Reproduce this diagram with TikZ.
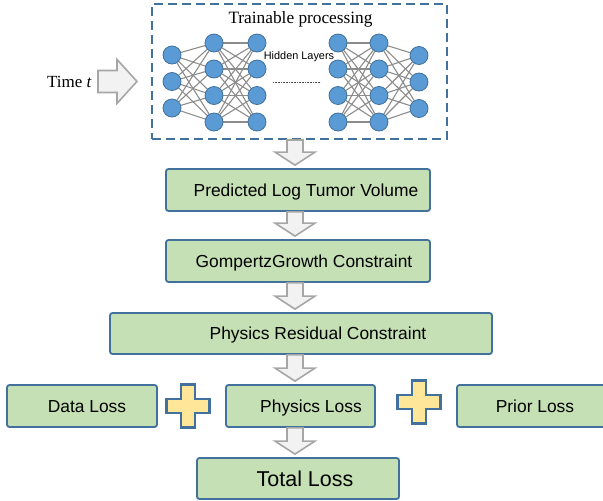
\documentclass[tikz,border=0pt]{standalone}
\usepackage{fontspec}
\setmainfont{Liberation Serif}
\newfontfamily\arialfont{Liberation Sans}
\usetikzlibrary{calc}
\pgfdeclarelayer{background}
\pgfsetlayers{background,main}
\definecolor{boxfill}{HTML}{C5E0B4}
\definecolor{boxline}{HTML}{41719C}
\definecolor{neuronfill}{HTML}{5B9BD5}
\definecolor{edgegray}{HTML}{8C8C8C}
\definecolor{arrowfill}{HTML}{F2F2F2}
\definecolor{arrowline}{HTML}{A6A6A6}
\definecolor{plusfill}{HTML}{FFE699}

\tikzset{
  stagebox/.style={draw=boxline, line width=1.8pt, fill=boxfill, rounded corners=2.5pt, inner sep=0pt},
  stagetext/.style={font=\arialfont\fontsize{17.4}{20}\selectfont, inner sep=0pt, anchor=base},
  bigtext/.style={font=\arialfont\fontsize{21.5}{24}\selectfont, inner sep=0pt, anchor=base},
  netbox/.style={draw=boxline, line width=2pt, dash pattern=on 9pt off 5pt, inner sep=0pt},
  neuron/.style={circle, minimum size=18pt, inner sep=0pt, fill=neuronfill, draw=boxline, line width=0.8pt},
  nnedge/.style={draw=edgegray, line width=1.1pt},
  blockarrow/.style={draw=arrowline, fill=arrowfill, line width=1.6pt, line join=miter},
  plusstyle/.style={draw=boxline, fill=plusfill, line width=2.6pt, line join=miter},
  plussign/.pic={
    \draw[plusstyle] (-7,-21.5) -- ++(14,0) -- ++(0,14.5) -- ++(14.5,0) -- ++(0,14)
      -- ++(-14.5,0) -- ++(0,14.5) -- ++(-14,0) -- ++(0,-14.5) -- ++(-14.5,0)
      -- ++(0,-14) -- ++(14.5,0) -- cycle;
  }
}

% downward block arrow from the bottom of #1 to just above #2
\newcommand{\blockdown}[2]{%
  \draw[blockarrow] let \p1=(ax |- #1.south), \p2=(ax |- #2.north) in
    (\x1-8pt,\y1) -- (\x1+8pt,\y1) -- (\x1+8pt,\y2+16pt) -- (\x1+20pt,\y2+16pt)
    -- (\x1,\y2+3pt) -- (\x1-20pt,\y2+16pt) -- (\x1-8pt,\y2+16pt) -- cycle;
}

\begin{document}
\begin{tikzpicture}[x=1pt,y=-1pt]
\useasboundingbox (0,0) rectangle (603,501);
\clip (0,0) rectangle (603,501);

% network block
\node[netbox, minimum width=295pt, minimum height=135pt] (net) at (299.5,71.5) {};
\node[font=\fontsize{17.3}{20}\selectfont, inner sep=0pt, anchor=base] (title) at (300.5,23) {Trainable processing};

% input label and arrow
\node[font=\fontsize{17}{20}\selectfont, inner sep=0pt, anchor=base] (timelbl) at (69.5,87) {Time \textit{t}};
\draw[blockarrow] let \p1=($(timelbl.east)+(6pt,0)$), \p2=($(net.west |- timelbl.east)+(-14pt,0)$) in
  (\x1,\y1+11pt) -- (\x2-20pt,\y1+11pt) -- (\x2-20pt,\y1+22pt) -- (\x2,\y1)
  -- (\x2-20pt,\y1-22pt) -- (\x2-20pt,\y1-11pt) -- (\x1,\y1-11pt) -- cycle;

% neurons
\foreach \j/\y in {1/55,2/81.5,3/108} {
  \node[neuron] (a\j) at (172,\y) {};
  \node[neuron] (f\j) at (419,\y+0.5) {};
}
\foreach \j/\y in {1/43,2/69,3/95.5,4/122} {
  \node[neuron] (b\j) at (214,\y) {};
  \node[neuron] (c\j) at (257,\y) {};
  \node[neuron] (d\j) at (338,\y) {};
  \node[neuron] (e\j) at (379,\y) {};
}
\begin{pgfonlayer}{background}
  \foreach \i in {1,...,3} \foreach \j in {1,...,4} {
    \draw[nnedge] (a\i) -- (b\j);
    \draw[nnedge] (e\j) -- (f\i);
  }
  \foreach \i in {1,...,4} \foreach \j in {1,...,4} {
    \draw[nnedge] (b\i) -- (c\j);
    \draw[nnedge] (d\i) -- (e\j);
  }
\end{pgfonlayer}
\node[font=\arialfont\fontsize{10.9}{12}\selectfont, inner sep=0pt, anchor=base] (hidden) at (299,59) {Hidden Layers};
\draw[draw=black!70, line width=1pt, dash pattern=on 0.8pt off 0.8pt] (273,82) -- (321,82);

% pipeline boxes
\node[stagebox, minimum width=264pt, minimum height=42pt] (b1box) at (298,190) {};
\node[stagetext] at ($(b1box.center)+(8,6.2)$) {Predicted Log Tumor Volume};
\node[stagebox, minimum width=264pt, minimum height=42pt] (b2box) at (298,261) {};
\node[stagetext] at ($(b2box.center)+(6,6.2)$) {GompertzGrowth Constraint};
\node[stagebox, minimum width=382pt, minimum height=41pt] (b3box) at (301,333.5) {};
\node[stagetext] at ($(b3box.center)+(17,6.2)$) {Physics Residual Constraint};

% loss terms
\node[stagebox, minimum width=150pt, minimum height=42pt] (data) at (82,406) {};
\node[stagetext] at ($(data.center)+(5,6.2)$) {Data Loss};
\node[stagebox, minimum width=149pt, minimum height=42pt] (phys) at (300.5,406) {};
\node[stagetext] at ($(phys.center)+(10.5,6.2)$) {Physics Loss};
\node[stagebox, minimum width=150pt, minimum height=42pt] (prior) at (532,406) {};
\node[stagetext] at ($(prior.center)+(3,6.2)$) {Prior Loss};
\node[stagebox, minimum width=202pt, minimum height=41pt] (total) at (298,478.5) {};
\node[bigtext] at ($(total.center)+(7,7.7)$) {Total Loss};

\pic at (188,406) {plussign};
\pic at (419,402) {plussign};

% flow arrows
\coordinate (ax) at (295,0);
\blockdown{net}{b1box}
\blockdown{b1box}{b2box}
\blockdown{b2box}{b3box}
\blockdown{b3box}{phys}
\blockdown{phys}{total}
\end{tikzpicture}
\end{document}
